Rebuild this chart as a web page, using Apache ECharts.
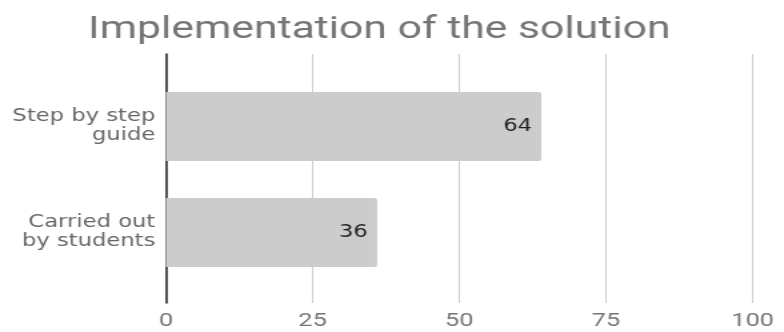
<!DOCTYPE html>
<html>
<head>
<meta charset="utf-8">
<script src="https://cdn.jsdelivr.net/npm/echarts@6/dist/echarts.min.js"></script>
<style>
  html, body { margin: 0; padding: 0; background: #fff; overflow: hidden; }
  /* the reference looks stretched sideways, so draw narrow and widen */
  #chart { width: 588px; height: 332px; transform: scaleX(1.3333); transform-origin: 0 0; }
</style>
</head>
<body>
<div id="chart"></div>
<script>
const titleText = 'Implementation of the solution';
const categories = ['Step by step\nguide', 'Carried out\nby students'];
const values = [64, 36];
const tickMin = 0;
const tickMax = 100;
const tickStep = 25;

const chart = echarts.init(document.getElementById('chart'));

const option = {
  animation: false,
  title: {
    text: titleText,
    left: 66,
    top: 14,
    padding: 0,
    textStyle: {
      fontFamily: 'Roboto',
      fontSize: 32,
      fontWeight: 'normal',
      color: '#757575'
    }
  },
  grid: [
    // grid lines and the value axis labels
    { left: 124.5, right: 23.5, top: 54, bottom: 29 },
    // the bars sit a little inside the lines
    { left: 124.5, right: 23.5, top: 73.5, bottom: 46.5 }
  ],
  xAxis: [
    {
      gridIndex: 0,
      type: 'value',
      min: tickMin,
      max: tickMax,
      interval: tickStep,
      axisLine: { show: false },
      axisTick: { show: false },
      splitLine: { lineStyle: { color: '#cccccc', width: 1 } },
      axisLabel: {
        margin: 9,
        fontFamily: 'Roboto',
        fontSize: 19,
        color: '#757575'
      }
    },
    {
      gridIndex: 1,
      type: 'value',
      min: tickMin,
      max: tickMax,
      show: false
    }
  ],
  yAxis: [
    {
      gridIndex: 0,
      type: 'category',
      data: categories,
      inverse: true,
      axisLine: { show: true, lineStyle: { color: '#222222', width: 1.5 } },
      axisTick: { show: false },
      axisLabel: { show: false },
      splitLine: { show: false }
    },
    {
      gridIndex: 1,
      type: 'category',
      data: categories,
      inverse: true,
      axisLine: { show: false },
      axisTick: { show: false },
      axisLabel: {
        margin: 8,
        align: 'right',
        lineHeight: 19,
        fontFamily: 'DejaVu Sans',
        fontSize: 17,
        color: '#666666'
      }
    }
  ],
  series: [
    {
      type: 'bar',
      xAxisIndex: 1,
      yAxisIndex: 1,
      data: values,
      barWidth: 69,
      itemStyle: { color: '#cccccc', borderRadius: [0, 2, 2, 0] },
      label: {
        show: true,
        position: 'insideRight',
        distance: 7,
        fontFamily: 'DejaVu Sans',
        fontSize: 17,
        color: '#222222'
      }
    }
  ]
};

chart.setOption(option);
</script>
</body>
</html>
